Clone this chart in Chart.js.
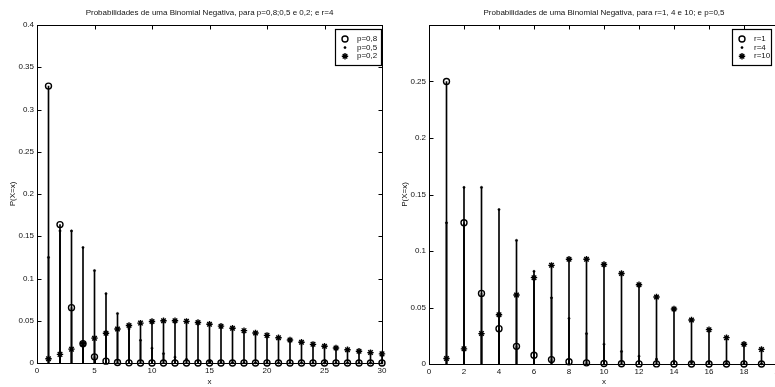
<!DOCTYPE html>
<html>
<head>
<meta charset="utf-8">
<script src="https://cdn.jsdelivr.net/npm/chart.js@4.4.1/dist/chart.umd.min.js"></script>
<style>
  html, body { margin: 0; padding: 0; background: #fff; overflow: hidden; }
  #wrap { position: relative; width: 775px; height: 387px; overflow: hidden; }
  #wrap canvas { position: absolute; top: 0; }
  #chartP { left: 0; }
  #chartR { left: 392px; }
</style>
</head>
<body>
<div id="wrap">
  <canvas id="chartP" width="392" height="387"></canvas>
  <canvas id="chartR" width="400" height="387"></canvas>
</div>
<script>
// Left panel: r = 4, p = 0.8 / 0.5 / 0.2
const xLeft = [1, 2, 3, 4, 5, 6, 7, 8, 9, 10, 11, 12, 13, 14, 15, 16, 17, 18, 19, 20,
               21, 22, 23, 24, 25, 26, 27, 28, 29, 30];
const labelsLeft = ['p=0,8', 'p=0,5', 'p=0,2'];
const pmfP08 = [0.3277, 0.1638, 0.0655, 0.0229, 0.0073, 0.0022, 0.0006, 0.0002, 0, 0,
                0, 0, 0, 0, 0, 0, 0, 0, 0, 0,
                0, 0, 0, 0, 0, 0, 0, 0, 0, 0];
const pmfP05 = [0.125, 0.1563, 0.1563, 0.1367, 0.1094, 0.082, 0.0586, 0.0403, 0.0269, 0.0175,
                0.0111, 0.0069, 0.0043, 0.0026, 0.0016, 0.0009, 0.0005, 0.0003, 0.0002, 0.0001,
                0, 0, 0, 0, 0, 0, 0, 0, 0, 0];
const pmfP02 = [0.0051, 0.0102, 0.0164, 0.0229, 0.0294, 0.0352, 0.0403, 0.0443, 0.0472, 0.0491,
                0.05, 0.05, 0.0493, 0.0479, 0.0459, 0.0436, 0.0411, 0.0383, 0.0355, 0.0327,
                0.0299, 0.0272, 0.0246, 0.0221, 0.0198, 0.0177, 0.0157, 0.0139, 0.0123, 0.0108];
const xTicksLeft = [0, 5, 10, 15, 20, 25, 30];
const yTicksLeft = [0, 0.05, 0.1, 0.15, 0.2, 0.25, 0.3, 0.35, 0.4];

// Right panel: p = 0.5, r = 1 / 4 / 10
const xRight = [1, 2, 3, 4, 5, 6, 7, 8, 9, 10, 11, 12, 13, 14, 15, 16, 17, 18, 19, 20];
const labelsRight = ['r=1', 'r=4', 'r=10'];
const pmfR1 = [0.25, 0.125, 0.0625, 0.0313, 0.0156, 0.0078, 0.0039, 0.002, 0.001, 0.0005,
               0.0002, 0.0001, 0.0001, 0, 0, 0, 0, 0, 0, 0];
const pmfR4 = [0.125, 0.1563, 0.1563, 0.1367, 0.1094, 0.082, 0.0586, 0.0403, 0.0269, 0.0175,
               0.0111, 0.0069, 0.0043, 0.0026, 0.0016, 0.0009, 0.0005, 0.0003, 0.0002, 0.0001];
const pmfR10 = [0.0049, 0.0134, 0.0269, 0.0436, 0.0611, 0.0764, 0.0873, 0.0927, 0.0927, 0.0881,
                0.0801, 0.0701, 0.0593, 0.0487, 0.039, 0.0304, 0.0233, 0.0175, 0.0129, 0.0093];
const xTicksRight = [0, 2, 4, 6, 8, 10, 12, 14, 16, 18, 20];
const yTicksRight = [0, 0.05, 0.1, 0.15, 0.2, 0.25];

const FONT = "'Liberation Sans', Arial, Helvetica, sans-serif";
const FSIZE = 8;
const INK = '#111';

// 'o', '.' and '*' markers, in series order
const markerStyles = [
  { pointStyle: 'circle', radius: 3, borderWidth: 1.4, fill: 'rgba(0,0,0,0)' },
  { pointStyle: 'circle', radius: 1.1, borderWidth: 0.6, fill: '#000' },
  { pointStyle: 'star', radius: 3.2, borderWidth: 1.4, fill: '#000' }
];

// each series = thin bars for the stems + a points-only line for the heads
function stemDatasets(xs, series, labels) {
  const stems = series.map((vals, i) => ({
    type: 'bar',
    label: labels[i],
    data: xs.map((x, k) => ({ x: x, y: vals[k] })),
    backgroundColor: '#000',
    barThickness: 1,
    grouped: false,
    order: 2
  }));
  const heads = series.map((vals, i) => {
    const m = markerStyles[i];
    return {
      type: 'line',
      label: labels[i],
      data: xs.map((x, k) => ({ x: x, y: vals[k] })),
      showLine: false,
      clip: false,
      pointStyle: m.pointStyle,
      pointRadius: m.radius,
      pointBorderWidth: m.borderWidth,
      pointBorderColor: '#000',
      pointBackgroundColor: m.fill,
      order: 1
    };
  });
  return stems.concat(heads);
}

// box around the plot area with inward tick marks on all four sides
const framePlugin = {
  id: 'frame',
  beforeDatasetsDraw(chart) {
    const { ctx, chartArea: a, scales: { x, y } } = chart;
    const L = Math.round(a.left) + 0.5, R = Math.round(a.right) + 0.5;
    const T = Math.round(a.top) + 0.5, B = Math.round(a.bottom) + 0.5;
    const len = 4;
    ctx.save();
    ctx.strokeStyle = '#000';
    ctx.lineWidth = 1;
    ctx.strokeRect(L, T, R - L, B - T);
    ctx.beginPath();
    x.ticks.forEach(t => {
      const px = Math.round(x.getPixelForValue(t.value)) + 0.5;
      ctx.moveTo(px, B); ctx.lineTo(px, B - len);
      ctx.moveTo(px, T); ctx.lineTo(px, T + len);
    });
    y.ticks.forEach(t => {
      const py = Math.round(y.getPixelForValue(t.value)) + 0.5;
      ctx.moveTo(L, py); ctx.lineTo(L + len, py);
      ctx.moveTo(R, py); ctx.lineTo(R - len, py);
    });
    ctx.stroke();
    ctx.restore();
  }
};

// framed legend in the upper right corner of the plot area
const boxLegend = {
  id: 'boxLegend',
  afterDatasetsDraw(chart, args, opts) {
    const { ctx, chartArea } = chart;
    const left = Math.round(chartArea.right - opts.gap - opts.width);
    const top = Math.round(chartArea.top + 4);
    const h = 36;
    const heads = chart.data.datasets.filter(d => d.type === 'line');
    ctx.save();
    ctx.fillStyle = '#fff';
    ctx.fillRect(left, top, opts.width, h);
    ctx.strokeStyle = '#000';
    ctx.lineWidth = 1.2;
    ctx.strokeRect(left + 0.5, top + 0.5, opts.width, h);
    ctx.font = FSIZE + 'px ' + FONT;
    ctx.textBaseline = 'middle';
    heads.forEach((d, i) => {
      const cy = top + 10 + i * 8.6;
      ctx.fillStyle = d.pointBackgroundColor;
      ctx.strokeStyle = '#000';
      ctx.lineWidth = d.pointBorderWidth;
      Chart.helpers.drawPoint(ctx, {
        pointStyle: d.pointStyle,
        radius: d.pointRadius,
        borderWidth: d.pointBorderWidth,
        rotation: 0
      }, left + 10, cy);
      ctx.fillStyle = INK;
      ctx.fillText(d.label, left + 22, cy);
    });
    ctx.restore();
  }
};

function fixedTicks(values) {
  return scale => { scale.ticks = values.map(v => ({ value: v })); };
}

function makeChart(id, cfg) {
  const font = { family: FONT, size: FSIZE };
  return new Chart(document.getElementById(id), {
    type: 'bar',
    data: { datasets: stemDatasets(cfg.xs, cfg.series, cfg.labels) },
    options: {
      responsive: false,
      animation: false,
      events: [],
      layout: { padding: { left: 0, right: cfg.padRight, top: 0, bottom: 0 } },
      scales: {
        x: {
          type: 'linear',
          min: 0,
          max: cfg.xMax,
          offset: false,
          grid: { display: false, drawTicks: false, offset: false },
          border: { display: false },
          afterBuildTicks: fixedTicks(cfg.xTicks),
          afterFit: s => { s.height = cfg.xAxisHeight; },
          ticks: {
            padding: 3,
            maxRotation: 0,
            autoSkip: false,
            color: INK,
            font: font,
            callback: v => String(v)
          },
          title: {
            display: true,
            text: 'x',
            color: INK,
            padding: { top: 0, bottom: 0 },
            font: font
          }
        },
        y: {
          type: 'linear',
          min: 0,
          max: cfg.yMax,
          grid: { display: false, drawTicks: false },
          border: { display: false },
          afterBuildTicks: fixedTicks(cfg.yTicks),
          afterFit: s => { s.width = 37; },
          ticks: {
            padding: 3,
            autoSkip: false,
            color: INK,
            font: font,
            callback: v => String(v)
          },
          title: {
            display: true,
            text: 'P(X=x)',
            color: INK,
            padding: { top: 8, bottom: 0 },
            font: font
          }
        }
      },
      plugins: {
        legend: { display: false },
        tooltip: { enabled: false },
        title: {
          display: true,
          fullSize: false,
          text: cfg.title,
          color: INK,
          padding: { top: 8, bottom: 7.4 },
          font: { family: FONT, size: FSIZE, weight: 'normal' }
        },
        boxLegend: { gap: cfg.legendGap, width: cfg.legendWidth }
      }
    },
    plugins: [framePlugin, boxLegend]
  });
}

makeChart('chartP', {
  xs: xLeft,
  series: [pmfP08, pmfP05, pmfP02],
  labels: labelsLeft,
  xTicks: xTicksLeft,
  yTicks: yTicksLeft,
  xMax: 30,
  yMax: 0.4,
  padRight: 10,
  xAxisHeight: 24,
  legendGap: 1,
  legendWidth: 46,
  title: 'Probabilidades de uma Binomial Negativa, para p=0,8;0,5 e 0,2; e r=4'
});

makeChart('chartR', {
  xs: xRight,
  series: [pmfR1, pmfR4, pmfR10],
  labels: labelsRight,
  xTicks: xTicksRight,
  yTicks: yTicksRight,
  xMax: 20,
  yMax: 0.3,
  padRight: 13,
  xAxisHeight: 23,
  legendGap: 8,
  legendWidth: 39,
  title: 'Probabilidades de uma Binomial Negativa, para r=1, 4 e 10; e p=0,5'
});
</script>
</body>
</html>
